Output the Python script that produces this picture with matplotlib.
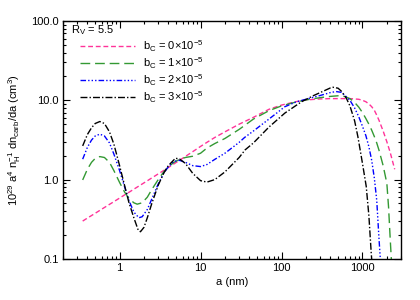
import numpy as np
import matplotlib
matplotlib.use("Agg")
import matplotlib.pyplot as plt

plt.rcParams["font.family"] = ["Liberation Sans", "DejaVu Sans"]
plt.rcParams["mathtext.fontset"] = "custom"
plt.rcParams["mathtext.rm"] = "Liberation Sans"
plt.rcParams["mathtext.it"] = "Liberation Sans"

# grain radius (nm) and size distribution for each b_C
a_b0 = [0.35, 0.4, 0.45, 0.5, 0.57, 0.65, 0.75, 0.85, 1.0, 1.15, 1.3, 1.5, 1.7,
        1.9, 2.2, 2.5, 3.0, 3.5, 4.0, 4.7, 5.5, 6.5, 8, 10, 12, 15, 20, 30, 45,
        70, 100, 150, 200, 300, 400, 500, 600, 700, 800, 900, 1000, 1100, 1200,
        1300, 1400, 1500, 1600, 1800, 2000, 2200, 2500]
v_b0 = [0.30, 0.327, 0.352, 0.376, 0.409, 0.445, 0.487, 0.527, 0.585, 0.64, 0.69,
        0.757, 0.82, 0.88, 0.966, 1.05, 1.18, 1.30, 1.42, 1.58, 1.75, 1.96, 2.25,
        2.62, 2.95, 3.4, 4.0, 5.0, 6.1, 7.7, 8.7, 9.6, 10.1, 10.4, 10.5, 10.5, 10.5,
        10.5, 10.4, 10.3, 10.0, 9.6, 9.0, 8.3, 7.5, 6.5, 5.6, 4.1, 3.0, 2.2, 1.35]

a_b1 = [0.35, 0.4, 0.45, 0.5, 0.57, 0.65, 0.75, 0.85, 1.0, 1.15, 1.3, 1.5, 1.65,
        1.9, 2.2, 2.5, 3.0, 3.5, 4.0, 4.7, 5.5, 6.5, 8, 10, 12, 15, 20, 30, 45,
        70, 100, 150, 200, 300, 400, 500, 600, 700, 800, 900, 1000, 1100, 1200,
        1300, 1400, 1500, 1600, 1800, 2000, 2100, 2200, 2300]
v_b1 = [0.99, 1.35, 1.65, 1.85, 1.95, 1.9, 1.65, 1.3, 0.92, 0.70, 0.58, 0.51, 0.49,
        0.51, 0.60, 0.75, 1.0, 1.25, 1.45, 1.65, 1.8, 1.9, 1.97, 2.15, 2.5, 2.85,
        3.3, 4.3, 5.8, 7.4, 8.5, 9.5, 10.1, 10.8, 11.2, 11.4, 11.2, 10.5, 9.4, 8.2,
        7.0, 5.9, 5.0, 4.2, 3.5, 2.9, 2.35, 1.5, 0.9, 0.45, 0.18, 0.08]

a_b2 = [0.35, 0.4, 0.45, 0.5, 0.57, 0.65, 0.75, 0.85, 1.0, 1.15, 1.3, 1.5, 1.73,
        1.9, 2.2, 2.5, 3.0, 3.5, 4.0, 4.7, 5.5, 6.5, 8, 10, 12, 15, 20, 30, 35,
        45, 70, 110, 150, 200, 300, 400, 470, 550, 650, 700, 800, 900, 1000, 1100,
        1200, 1300, 1400, 1500, 1600, 1700]
v_b2 = [1.81, 2.55, 3.15, 3.55, 3.74, 3.55, 2.9, 2.1, 1.3, 0.82, 0.55, 0.39, 0.33,
        0.34, 0.42, 0.57, 0.88, 1.2, 1.45, 1.7, 1.75, 1.65, 1.5, 1.46, 1.55, 1.8,
        2.15, 2.95, 3.4, 4.1, 5.8, 8.3, 9.5, 10.3, 11.5, 12.5, 12.9, 12.6, 10.8,
        10.0, 8.0, 6.2, 4.7, 3.6, 2.6, 1.75, 1.05, 0.55, 0.18, 0.07]

a_b3 = [0.35, 0.4, 0.45, 0.5, 0.57, 0.65, 0.75, 0.85, 1.0, 1.15, 1.3, 1.5, 1.7,
        1.81, 2.0, 2.2, 2.5, 3.0, 3.5, 4.0, 4.9, 5.5, 6.5, 8, 10, 12, 15, 20, 30,
        35.5, 45, 70, 110, 177, 250, 300, 400, 433, 500, 550, 633, 700, 800, 877,
        1000, 1113, 1200, 1283, 1350]
v_b3 = [2.66, 3.7, 4.5, 5.1, 5.4, 5.1, 4.0, 2.8, 1.5, 0.85, 0.52, 0.33, 0.23,
        0.22, 0.25, 0.33, 0.5, 0.85, 1.2, 1.5, 1.86, 1.82, 1.6, 1.2, 0.97, 0.93,
        1.0, 1.25, 1.9, 2.37, 2.9, 4.6, 6.9, 9.6, 11.5, 12.5, 14.3, 14.6, 14.2,
        13.0, 10.6, 8.5, 5.5, 3.49, 1.6, 0.82, 0.35, 0.118, 0.06]

labels = [r"b$_\mathrm{C}$ = 0$\times$10$^{-5}$",
          r"b$_\mathrm{C}$ = 1$\times$10$^{-5}$",
          r"b$_\mathrm{C}$ = 2$\times$10$^{-5}$",
          r"b$_\mathrm{C}$ = 3$\times$10$^{-5}$"]

fs = 8

fig = plt.figure(figsize=(4.2, 3.0), dpi=100)
ax = fig.add_axes([0.15, 0.137, 0.805, 0.793])

ax.plot(a_b0, v_b0, color="#ff3399", lw=1.0, dashes=(3.5, 2.0), label=labels[0])
ax.plot(a_b1, v_b1, color="#339933", lw=1.0, dashes=(7, 3.5), label=labels[1])
ax.plot(a_b2, v_b2, color="#0000ff", lw=1.0,
        dashes=(4, 1.5, 1, 1.5, 1, 1.5, 1, 1.5), label=labels[2])
ax.plot(a_b3, v_b3, color="black", lw=1.0, dashes=(5, 1.5, 1, 1.5), label=labels[3])

ax.set_xscale("log")
ax.set_yscale("log")
ax.set_xlim(0.2, 3000)
ax.set_ylim(0.1, 100)

ax.set_xticks([1, 10, 100, 1000])
ax.set_xticklabels(["1", "10", "100", "1000"])
ax.set_yticks([0.1, 1, 10, 100])
ax.set_yticklabels(["0.1", "1.0", "10.0", "100.0"])
ax.tick_params(which="both", direction="in", top=True, right=True, labelsize=fs,
               width=0.8)
ax.tick_params(which="major", length=5, pad=3)
ax.tick_params(which="minor", length=2.5)
for s in ax.spines.values():
    s.set_linewidth(1.0)

ax.set_xlabel("a (nm)", fontsize=fs, labelpad=3)
ax.set_ylabel(r"10$^{29}$ a$^4$ n$_\mathrm{H}^{-1}$ dn$_\mathrm{carb}$/da (cm$^3$)",
              fontsize=fs, labelpad=6)

ax.text(0.025, 0.99, r"R$_\mathrm{V}$ = 5.5", transform=ax.transAxes,
        fontsize=fs, va="top", ha="left")
ax.legend(loc="upper left", bbox_to_anchor=(0.03, 0.955), frameon=False,
          fontsize=fs, handlelength=5.0, handletextpad=0.7, labelspacing=0.12,
          borderaxespad=0.2)

fig.savefig("out.png", dpi=100)
